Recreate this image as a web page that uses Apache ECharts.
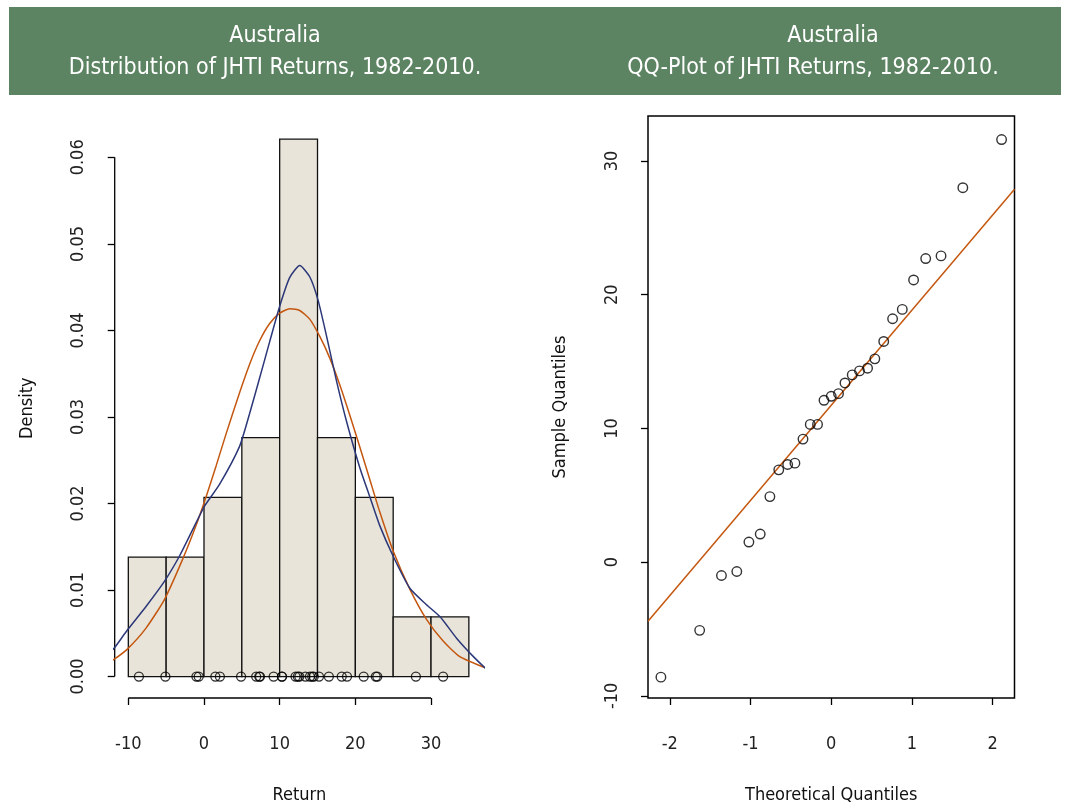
<!DOCTYPE html>
<html>
<head>
    <meta charset="utf-8">
    <title>Australia - JHTI Returns</title>
    <script src="https://cdn.jsdelivr.net/npm/echarts@6/dist/echarts.min.js"></script>
    <style>
        html, body { margin: 0; padding: 0; background: #fff; }
        #chart1 { width: 1065px; height: 809px; }
    </style>
</head>
<body>
<div id="chart1"></div>
<script type="text/javascript">
    // 年收益率 (排序后), 读自图
    var returns = [-8.6, -5.1, -1.0, -0.7, 1.5, 2.1, 4.9, 6.9, 7.3, 7.4, 9.2, 10.3, 10.3, 12.1, 12.4,
        12.6, 13.4, 14.0, 14.3, 14.5, 15.2, 16.5, 18.2, 18.9, 21.1, 22.7, 22.9, 28.0, 31.6];

    // histogram bins
    var binStart = [-10, -5, 0, 5, 10, 15, 20, 25, 30];
    var binEnd = [-5, 0, 5, 10, 15, 20, 25, 30, 35];
    var binDensity = [0.0138, 0.0138, 0.0207, 0.0276, 0.0621, 0.0276, 0.0207, 0.0069, 0.0069];

    // normal curve (orange)
    var normX = [-12.5, -11.85, -10.1, -7.66, -5.23, -2.8, -1.03, 0.29, 1.62, 2.94, 4.7, 6.03, 7.35, 8.68,
        10.0, 11.32, 12.65, 13.97, 15.3, 16.62, 17.95, 19.27, 20.6, 21.9, 23.2, 25.0, 27.2, 29.4, 31.6, 33.8, 36.9, 37.5];
    var normY = [0.0017, 0.0020, 0.0032, 0.0056, 0.0089, 0.0136, 0.0175, 0.0208, 0.0244, 0.0281, 0.0328, 0.0361,
        0.0388, 0.0408, 0.0420, 0.0425, 0.0423, 0.0413, 0.0393, 0.0368, 0.0337, 0.0302, 0.0265, 0.0228, 0.0191,
        0.0145, 0.0101, 0.0066, 0.0041, 0.0023, 0.0011, 0.0009];

    // kernel density (blue)
    var kdeX = [-12.5, -11.85, -10.1, -7.66, -5.23, -3.25, -1.48, 0.07, 2.05, 4.7, 6.03, 7.35, 8.68, 10.0,
        11.32, 12.65, 13.97, 15.07, 16.18, 17.5, 18.83, 20.6, 21.9, 23.2, 25.0, 27.2, 29.4, 31.2, 33.4, 35.6, 37.15, 37.5];
    var kdeY = [0.0027, 0.0033, 0.0054, 0.0081, 0.0110, 0.0139, 0.0170, 0.0197, 0.0222, 0.0266, 0.0304, 0.0345,
        0.0387, 0.0428, 0.0461, 0.0475, 0.0462, 0.0435, 0.0394, 0.0342, 0.0295, 0.0241, 0.0208, 0.0175,
        0.0139, 0.0102, 0.0083, 0.0069, 0.0044, 0.0023, 0.0010, 0.0008];

    // QQ plot
    var qqTheory = [-2.11, -1.63, -1.36, -1.17, -1.02, -0.88, -0.76, -0.65, -0.54, -0.45, -0.35, -0.26, -0.17,
        -0.09, 0, 0.09, 0.17, 0.26, 0.35, 0.45, 0.54, 0.65, 0.76, 0.88, 1.02, 1.17, 1.36, 1.63, 2.11];
    var qqLineX = [-2.27, 2.27];
    var qqLineY = [-4.42, 27.89];

    // tick labels
    var histTicksX = [-10, 0, 10, 20, 30];
    var histTicksY = [0, 0.01, 0.02, 0.03, 0.04, 0.05, 0.06];
    var qqTicksX = [-2, -1, 0, 1, 2];
    var qqTicksY = [-10, 0, 10, 20, 30];

    // axis ranges
    var histXMin = -11.8, histXMax = 37.0, histYMin = -0.00248, histYMax = 0.0645;
    var qqXMin = -2.27, qqXMax = 2.27, qqYMin = -10.16, qqYMax = 33.36;

    var FONT = "'Liberation Sans Narrow', 'DejaVu Sans Condensed', 'Arial Narrow', sans-serif";
    var ORANGE = '#c4570f';
    var NAVY = '#2b3778';

    function zip(xs, ys) {
        return xs.map(function (x, i) { return [x, ys[i]]; });
    }

    var tickStyle = { color: '#000', width: 1.3 };
    var labelStyle = { color: '#222', fontFamily: FONT, fontSize: 18 };
    var nameStyle = { color: '#111', fontFamily: FONT, fontSize: 18 };

    var myChart1 = echarts.init(document.getElementById('chart1'));

    myChart1.setOption({
        animation: false,
        backgroundColor: '#fff',
        graphic: [
            { type: 'rect', shape: { x: 9, y: 7, width: 1052, height: 88 }, style: { fill: '#5c8462' }, silent: true },
            { type: 'text', x: 275, y: 36, style: { text: 'Australia', fill: '#fff', font: '23px ' + FONT, align: 'center', verticalAlign: 'middle' } },
            { type: 'text', x: 275, y: 68, style: { text: 'Distribution of JHTI Returns, 1982-2010.', fill: '#fff', font: '23px ' + FONT, align: 'center', verticalAlign: 'middle' } },
            { type: 'text', x: 833, y: 36, style: { text: 'Australia', fill: '#fff', font: '23px ' + FONT, align: 'center', verticalAlign: 'middle' } },
            { type: 'text', x: 813, y: 68, style: { text: 'QQ-Plot of JHTI Returns, 1982-2010.', fill: '#fff', font: '23px ' + FONT, align: 'center', verticalAlign: 'middle' } }
        ],
        grid: [
            { left: 114.7, top: 118.4, width: 369.3, height: 580.1, show: false },
            { left: 648, top: 116, width: 366.5, height: 583.3, show: true, borderColor: '#000', borderWidth: 1.5, backgroundColor: 'transparent' }
        ],
        xAxis: [
            {
                gridIndex: 0, type: 'value', min: histXMin, max: histXMax,
                name: 'Return', nameLocation: 'middle', nameGap: 88, nameTextStyle: nameStyle,
                splitLine: { show: false }, axisLine: { show: false, onZero: false },
                axisTick: { show: true, length: 7, customValues: histTicksX, lineStyle: tickStyle },
                axisLabel: Object.assign({ customValues: histTicksX, margin: 37 }, labelStyle)
            },
            {
                gridIndex: 1, type: 'value', min: qqXMin, max: qqXMax,
                name: 'Theoretical Quantiles', nameLocation: 'middle', nameGap: 88, nameTextStyle: nameStyle,
                splitLine: { show: false }, axisLine: { show: false, onZero: false },
                axisTick: { show: true, length: 7, customValues: qqTicksX, lineStyle: tickStyle },
                axisLabel: Object.assign({ customValues: qqTicksX, margin: 37 }, labelStyle)
            }
        ],
        yAxis: [
            {
                gridIndex: 0, type: 'value', min: histYMin, max: histYMax,
                name: 'Density', nameLocation: 'middle', nameGap: 78, nameTextStyle: nameStyle,
                splitLine: { show: false }, axisLine: { show: false, onZero: false },
                axisTick: { show: true, length: 7, customValues: histTicksY, lineStyle: tickStyle },
                axisLabel: Object.assign({
                    customValues: histTicksY, margin: 27, rotate: 90,
                    formatter: function (v) { return v.toFixed(2); }
                }, labelStyle)
            },
            {
                gridIndex: 1, type: 'value', min: qqYMin, max: qqYMax,
                name: 'Sample Quantiles', nameLocation: 'middle', nameGap: 79, nameTextStyle: nameStyle,
                splitLine: { show: false }, axisLine: { show: false, onZero: false },
                axisTick: { show: true, length: 7, customValues: qqTicksY, lineStyle: tickStyle },
                axisLabel: Object.assign({ customValues: qqTicksY, margin: 27, rotate: 90 }, labelStyle)
            }
        ],
        series: [
            {
                // histogram bars
                type: 'custom', xAxisIndex: 0, yAxisIndex: 0,
                data: binStart.map(function (s, i) { return [s, binEnd[i], binDensity[i]]; }),
                renderItem: function (params, api) {
                    var p0 = api.coord([api.value(0), api.value(2)]);
                    var p1 = api.coord([api.value(1), 0]);
                    return {
                        type: 'rect',
                        shape: { x: p0[0], y: p0[1], width: p1[0] - p0[0], height: p1[1] - p0[1] },
                        style: { fill: '#e8e4da', stroke: '#111', lineWidth: 1.3 }
                    };
                },
                z: 1
            },
            {
                // R style axis lines (only from first to last tick)
                type: 'line', xAxisIndex: 0, yAxisIndex: 0, clip: false, symbol: 'none',
                data: [[histTicksX[0], histYMin], [histTicksX[histTicksX.length - 1], histYMin]],
                lineStyle: { color: '#000', width: 1.3 }, z: 3
            },
            {
                type: 'line', xAxisIndex: 0, yAxisIndex: 0, clip: false, symbol: 'none',
                data: [[histXMin, histTicksY[0]], [histXMin, histTicksY[histTicksY.length - 1]]],
                lineStyle: { color: '#000', width: 1.3 }, z: 3
            },
            {
                type: 'line', xAxisIndex: 0, yAxisIndex: 0, symbol: 'none', smooth: 0.2,
                data: zip(normX, normY),
                lineStyle: { color: ORANGE, width: 1.5 }, z: 4
            },
            {
                type: 'line', xAxisIndex: 0, yAxisIndex: 0, symbol: 'none', smooth: 0.2,
                data: zip(kdeX, kdeY),
                lineStyle: { color: NAVY, width: 1.5 }, z: 4
            },
            {
                // rug of returns
                type: 'scatter', xAxisIndex: 0, yAxisIndex: 0, symbol: 'circle', symbolSize: 9,
                data: returns.map(function (v) { return [v, 0]; }),
                itemStyle: { color: 'transparent', borderColor: '#000', borderWidth: 1.3 }, z: 5
            },
            {
                type: 'line', xAxisIndex: 1, yAxisIndex: 1, symbol: 'none',
                data: zip(qqLineX, qqLineY),
                lineStyle: { color: ORANGE, width: 1.5 }, z: 4
            },
            {
                type: 'scatter', xAxisIndex: 1, yAxisIndex: 1, symbol: 'circle', symbolSize: 9.5,
                data: zip(qqTheory, returns),
                itemStyle: { color: 'transparent', borderColor: '#000', borderWidth: 1.4 }, z: 5
            }
        ]
    });
</script>
</body>
</html>
